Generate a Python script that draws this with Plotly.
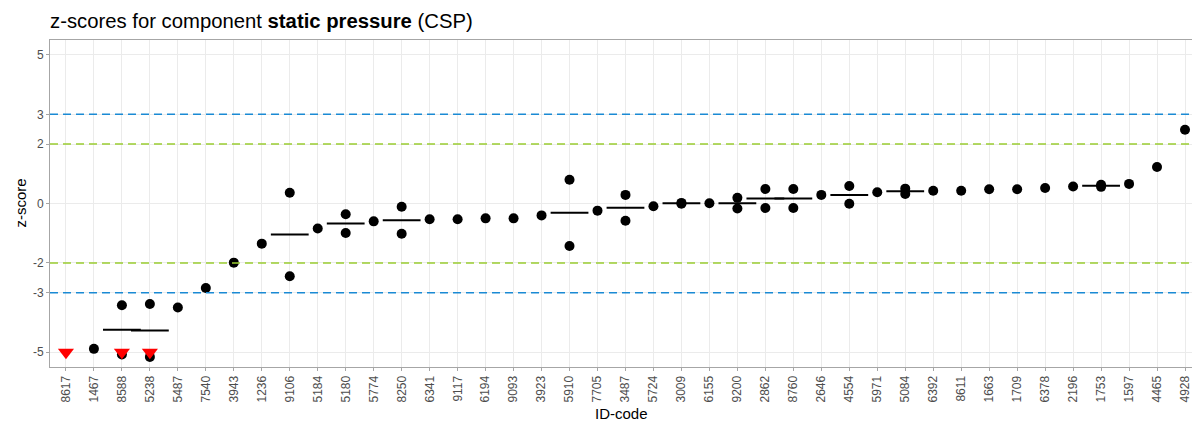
import numpy as np
import plotly.graph_objects as go

# ---- data -------------------------------------------------------------
ids = ['8617', '1467', '8588', '5238', '5487', '7540', '3943', '1236', '9106', '5184',
       '5180', '5774', '8250', '6341', '9117', '6194', '9093', '3923', '5910', '7705',
       '3487', '5724', '3009', '6155', '9200', '2862', '8760', '2646', '4554', '5971',
       '5084', '6392', '8611', '1663', '1709', '6378', '2196', '1753', '1597', '4465',
       '4928']

# first and second measurement z-scores (None = no value / off scale)
z_run1 = [None, -4.89, -3.42, -3.38, -3.50, -2.84, -1.99, -1.35, 0.36, -0.84,
          -0.36, -0.60, -0.11, -0.53, -0.53, -0.50, -0.50, -0.40, 0.80, -0.24,
          0.29, -0.09, 0.02, 0.01, 0.19, 0.49, 0.49, 0.29, 0.59, 0.38,
          0.50, 0.43, 0.43, 0.48, 0.48, 0.52, 0.57, 0.63, 0.66, 1.23,
          2.48]
z_run2 = [None, None, -5.08, -5.16, None, None, None, None, -2.45, None,
          -0.99, None, -1.02, None, None, None, None, None, -1.43, None,
          -0.58, None, -0.01, None, -0.17, -0.15, -0.15, None, -0.01, None,
          0.32, None, None, None, None, None, None, 0.56, None, None,
          None]

# labs with a result below the displayed range (shown as red triangle at the limit)
below_range = ['8617', '8588', '5238']
display_limit = -5

y_ticks = [5, 3, 2, 0, -2, -3, -5]
warn_limit = 2
action_limit = 3

# ---- derived ----------------------------------------------------------
px_ids, px_z = [], []
mean_ids, mean_z = [], []
for i, a, b in zip(ids, z_run1, z_run2):
    vals = [v for v in (a, b) if v is not None]
    for v in vals:
        px_ids.append(i)
        px_z.append(v)
    if len(vals) > 1:
        mean_ids.append(i)
        mean_z.append(float(np.mean(vals)))

fig = go.Figure()

# mean lines
fig.add_trace(go.Scatter(
    x=mean_ids, y=mean_z, mode='markers',
    marker=dict(symbol='line-ew', size=27, color='black',
                line=dict(color='black', width=2)),
    hoverinfo='skip', showlegend=False))

# points
fig.add_trace(go.Scatter(
    x=px_ids, y=px_z, mode='markers',
    marker=dict(symbol='circle', size=10, color='black'),
    showlegend=False))

# below-range markers
fig.add_trace(go.Scatter(
    x=below_range, y=[display_limit] * len(below_range), mode='markers',
    marker=dict(symbol='triangle-down', size=14, color='#ff0000'),
    showlegend=False))

# limit lines
for lim, col in [(action_limit, '#1a8ad4'), (-action_limit, '#1a8ad4'),
                 (warn_limit, '#9acd32'), (-warn_limit, '#9acd32')]:
    fig.add_shape(type='line', xref='paper', x0=0, x1=1, yref='y', y0=lim, y1=lim,
                  line=dict(color=col, width=1.6, dash='8px,5px'), layer='above')

# axis titles
fig.add_annotation(text='ID-code', xref='paper', yref='paper', x=0.5, y=0,
                   yshift=-46, xanchor='center', yanchor='middle', showarrow=False,
                   font=dict(size=15, color='black'))
fig.add_annotation(text='z-score', xref='paper', yref='paper', x=0, y=0.5,
                   xshift=-30, xanchor='center', yanchor='middle', textangle=-90,
                   showarrow=False, font=dict(size=15, color='black'))

W, H = 1192, 423
grid = '#ebebeb'
border = '#a6a6a6'
fig.update_layout(
    width=W, height=H,
    margin=dict(l=50, r=0, t=40, b=56, autoexpand=False),
    paper_bgcolor='white', plot_bgcolor='white',
    font=dict(family='Liberation Sans, Arial, sans-serif', color='#4d4d4d'),
    title=dict(text='z-scores for component <b>static pressure</b> (CSP)',
               x=50 / W, xref='container', xanchor='left',
               y=1 - 21 / H, yref='container', yanchor='middle',
               font=dict(size=20.3, color='black')),
    xaxis=dict(type='category', categoryorder='array', categoryarray=ids,
               range=[-0.57, 40.25], tickangle=-90, automargin=False,
               tickfont=dict(size=12, color='#4d4d4d'),
               showgrid=True, gridcolor=grid, gridwidth=1,
               showline=True, linecolor=border, linewidth=1, mirror=True,
               ticks='outside', ticklen=3, tickcolor=border,
               zeroline=False),
    yaxis=dict(range=[-5.5, 5.5], tickvals=y_ticks, automargin=False,
               ticktext=[str(t) for t in y_ticks],
               tickfont=dict(size=12, color='#4d4d4d'),
               showgrid=True, gridcolor=grid, gridwidth=1,
               showline=True, linecolor=border, linewidth=1, mirror=False,
               ticks='outside', ticklen=3, tickcolor=border,
               zeroline=False),
)

fig.write_html('out.html',
               config={'displayModeBar': False},
               post_script="document.body.style.margin='0';"
                           "document.body.style.overflow='hidden';")
